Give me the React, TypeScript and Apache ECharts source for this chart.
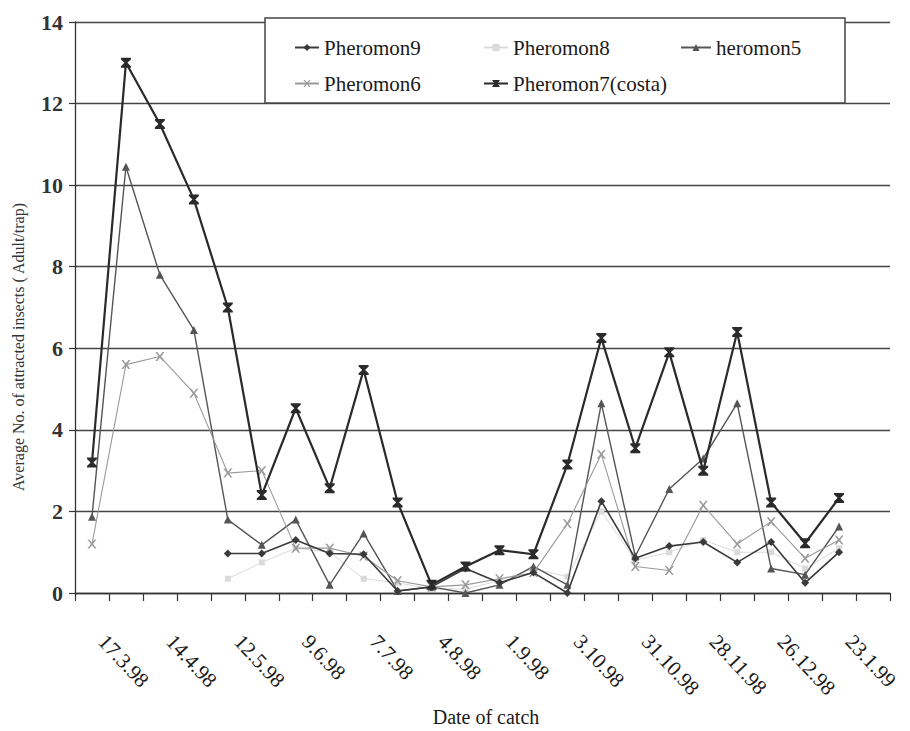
import React, { useEffect, useRef } from "react";
import * as echarts from "echarts";

const dates = [
  "17.3.98", "31.3.98", "14.4.98", "28.4.98", "12.5.98", "26.5.98", "9.6.98", "23.6.98",
  "7.7.98", "21.7.98", "4.8.98", "18.8.98", "1.9.98", "15.9.98", "3.10.98", "17.10.98",
  "31.10.98", "14.11.98", "28.11.98", "12.12.98", "26.12.98", "9.1.99", "23.1.99", "6.2.99",
];

const pheromon9 = [null, null, null, null, 0.97, 0.97, 1.3, 0.97, 0.95, 0.05, 0.15, 0.6, 0.25, 0.5, 0.0, 2.25, 0.85, 1.15, 1.25, 0.75, 1.25, 0.25, 1.0];
const pheromon8 = [null, null, null, null, 0.35, 0.75, 1.1, 1.0, 0.35, 0.25, 0.1, 0.1, 0.3, 0.6, 0.4, 2.0, 0.8, 1.0, 1.3, 1.0, 1.0, 0.6, 1.1];
const pheromon5 = [1.87, 10.45, 7.8, 6.45, 1.8, 1.18, 1.8, 0.2, 1.46, 0.05, 0.15, 0.0, 0.2, 0.65, 0.2, 4.65, 0.9, 2.55, 3.3, 4.65, 0.6, 0.45, 1.63];
const pheromon6 = [1.2, 5.6, 5.8, 4.9, 2.94, 3.0, 1.1, 1.1, 0.9, 0.3, 0.15, 0.2, 0.35, 0.5, 1.7, 3.4, 0.65, 0.55, 2.15, 1.2, 1.75, 0.85, 1.3];
const pheromon7 = [3.2, 13.0, 11.5, 9.65, 7.0, 2.4, 4.53, 2.57, 5.47, 2.22, 0.2, 0.65, 1.05, 0.95, 3.15, 6.25, 3.55, 5.9, 3.0, 6.4, 2.22, 1.22, 2.33];

const seriesNames = ["Pheromon9", "Pheromon8", "heromon5", "Pheromon6", "Pheromon7(costa)"];
const yTicks = { min: 0, max: 14, interval: 2 };

const SERIF = "Liberation Serif";
const xPath = "path://M0,0 L2,0 L5,3.6 L8,0 L10,0 L6.2,5 L10,10 L8,10 L5,6.4 L2,10 L0,10 L3.8,5 Z";
const hourglass = "path://M0,0 L10,0 L10,1.6 L6.4,5 L10,8.4 L10,10 L0,10 L0,8.4 L3.6,5 L0,1.6 Z";

export default function App() {
  const ref = useRef<HTMLDivElement>(null);
  useEffect(() => {
    if (!ref.current) return;
    const chart = echarts.init(ref.current, undefined, { renderer: "svg" });
    const mk = (name: string, data: (number | null)[], color: string, width: number, symbol: string, size: number, z: number) => ({
      name,
      type: "line",
      data,
      z,
      symbol,
      symbolSize: size,
      showSymbol: true,
      connectNulls: false,
      lineStyle: { color, width },
      itemStyle: { color },
      emphasis: { disabled: true },
    });
    const legendBase = {
      orient: "horizontal",
      selectedMode: false,
      padding: 0,
      itemWidth: 24,
      itemHeight: 9,
      textStyle: { fontFamily: SERIF, fontSize: 21, color: "#1a1a1a" },
      z: 10,
    };
    chart.setOption({
      animation: false,
      backgroundColor: "#ffffff",
      textStyle: { fontFamily: SERIF },
      grid: { left: 75, right: 20, top: 22, bottom: 138, containLabel: false },
      xAxis: {
        type: "category",
        data: dates,
        boundaryGap: true,
        axisLine: { show: true, lineStyle: { color: "#333", width: 1.3 } },
        axisTick: { show: true, interval: 0, length: 8, lineStyle: { color: "#333", width: 1.2 } },
        axisLabel: {
          interval: 1,
          rotate: -47,
          margin: 34,
          padding: [0, 0, 0, 15],
          fontFamily: SERIF,
          fontSize: 21,
          color: "#1a1a1a",
        },
        splitLine: { show: false },
      },
      yAxis: {
        type: "value",
        min: yTicks.min,
        max: yTicks.max,
        interval: yTicks.interval,
        axisLine: { show: true, lineStyle: { color: "#333", width: 1.3 } },
        axisTick: { show: true, length: 6, lineStyle: { color: "#333", width: 1.2 } },
        axisLabel: { margin: 12, fontFamily: SERIF, fontSize: 22, fontWeight: "bold", color: "#333" },
        splitLine: { show: true, lineStyle: { color: "#444", width: 1.3 } },
      },
      legend: [
        { ...legendBase, data: [seriesNames[0]], left: 294, top: 37 },
        { ...legendBase, data: [seriesNames[1]], left: 483, top: 37 },
        { ...legendBase, data: [seriesNames[2]], left: 680, top: 37, itemWidth: 30 },
        { ...legendBase, data: [seriesNames[3]], left: 294, top: 73 },
        { ...legendBase, data: [seriesNames[4]], left: 483, top: 73 },
      ],
      graphic: [
        {
          type: "rect",
          z: 5,
          shape: { x: 265, y: 18, width: 580, height: 85 },
          style: { fill: "#ffffff", stroke: "#444", lineWidth: 1.5 },
        },
        {
          type: "text",
          z: 5,
          x: 486,
          y: 717,
          style: {
            text: "Date of catch",
            fontFamily: SERIF,
            fontSize: 20,
            fill: "#1a1a1a",
            align: "center",
            verticalAlign: "middle",
          },
        },
        {
          type: "text",
          z: 5,
          x: 18,
          y: 347,
          rotation: Math.PI / 2,
          style: {
            text: "Average No. of attracted insects ( Adult/trap)",
            fontFamily: SERIF,
            fontSize: 16,
            fill: "#333",
            align: "center",
            verticalAlign: "middle",
          },
        },
      ],
      series: [
        mk(seriesNames[0], pheromon9, "#3a3a3a", 1.6, "diamond", 8, 4),
        mk(seriesNames[1], pheromon8, "#dadada", 1, "rect", 6, 2),
        mk(seriesNames[2], pheromon5, "#555555", 1.4, "triangle", 8, 3),
        mk(seriesNames[3], pheromon6, "#9a9a9a", 1.1, xPath, 9, 3),
        mk(seriesNames[4], pheromon7, "#2a2a2a", 2.2, hourglass, 10, 5),
      ],
    });
    return () => chart.dispose();
  }, []);
  return (
    <div
      ref={ref}
      style={{ position: "fixed", left: 0, top: 0, width: 910, height: 731, background: "#fff" }}
    />
  );
}
